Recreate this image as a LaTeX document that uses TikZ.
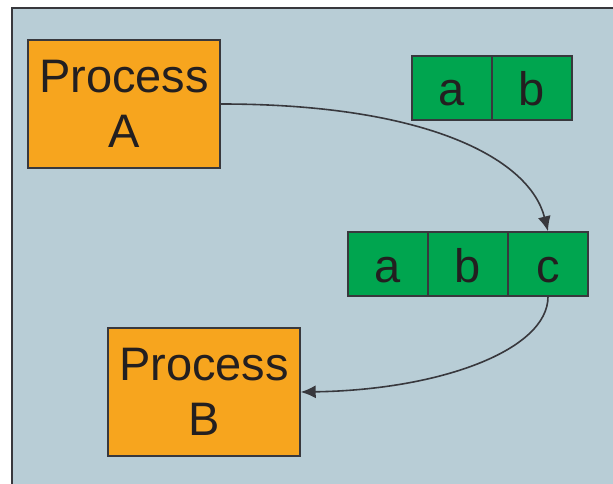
\documentclass[tikz,border=0pt]{standalone}
\usepackage{fontspec}
\setmainfont{Liberation Sans}
\usetikzlibrary{arrows.meta}
\definecolor{panelbg}{HTML}{B8CDD6}
\definecolor{procfill}{HTML}{F7A51E}
\definecolor{cellfill}{HTML}{00A54F}
\definecolor{edge}{HTML}{38383D}
\definecolor{ink}{HTML}{231F20}
\begin{document}
\begin{tikzpicture}[x=1pt,y=-1pt,
    process/.style={draw=edge,line width=1.4pt,fill=procfill,minimum width=192pt,minimum height=128pt,inner sep=0pt,align=center,text=ink,font=\fontsize{47}{55}\selectfont},
    cell/.style={draw=edge,line width=1.4pt,fill=cellfill,minimum width=80pt,minimum height=64pt,inner sep=0pt,text height=36pt,text depth=0pt,text=ink,font=\fontsize{47}{55}\selectfont},
    flow/.style={draw=edge,line width=1.6pt,-{Latex[length=15pt,width=13pt]}}]
    \useasboundingbox (0,0) rectangle (613,484);
    \fill[white] (0,0) rectangle (613,484);
    \begin{scope}
        \clip (0,0) rectangle (613,484);
        \draw[edge,line width=2pt,fill=panelbg] (12,8) rectangle (630,500);
    \end{scope}
    \node[process,anchor=center] at (124,104) (procA) {Process\\A};
    \node[process,anchor=center] at (204,392) (procB) {Process\\B};
    \node[cell,anchor=center] at (452,88) (a1) {a};
    \node[cell,anchor=center] at (532,88) (b1) {b};
    \node[cell,anchor=center] at (388,264) (a2) {a};
    \node[cell,anchor=center] at (468,264) (b2) {b};
    \node[cell,anchor=center] at (548,264) (c2) {c};
    \draw[flow] (procA.east) .. controls (430,104) and (530,160) .. (c2.north);
    \draw[flow] (c2.south) .. controls (548,350) and (440,390) .. (procB.east);
\end{tikzpicture}
\end{document}
